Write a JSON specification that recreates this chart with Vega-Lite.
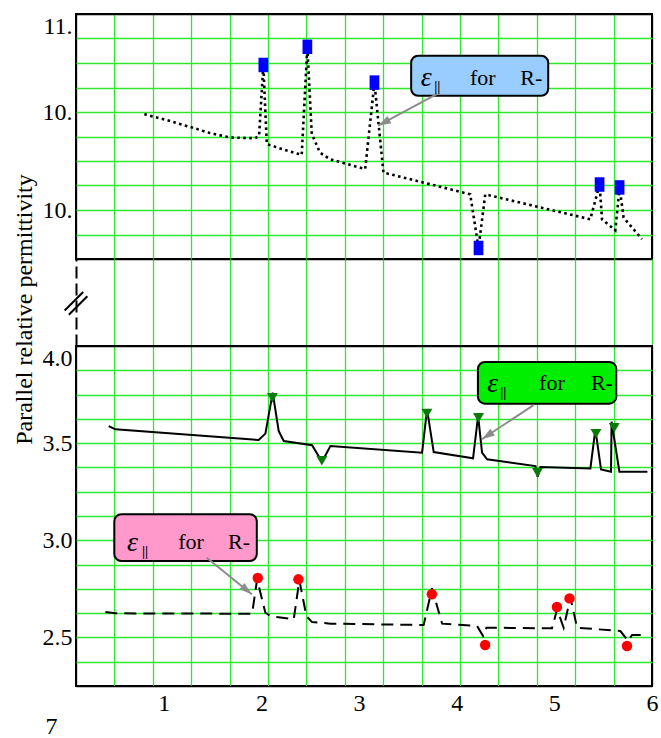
{
  "$schema": "https://vega.github.io/schema/vega-lite/v6.json",
  "background": "white",
  "padding": {"left": 12, "top": 13, "right": 0, "bottom": 10},
  "bounds": "flush",
  "spacing": 0,
  "config": {"font": "Liberation Serif", "text": {"font": "Liberation Serif"}, "axis": {"labelFont": "Liberation Serif", "titleFont": "Liberation Serif"}},
  "datasets": {
    "topLine": [
      {"x": 0.80, "y": 10.591}, {"x": 1.03, "y": 10.567}, {"x": 1.268, "y": 10.539}, {"x": 1.473, "y": 10.514},
      {"x": 1.678, "y": 10.496}, {"x": 1.934, "y": 10.493}, {"x": 1.975, "y": 10.503}, {"x": 2.019, "y": 10.792},
      {"x": 2.054, "y": 10.469}, {"x": 2.241, "y": 10.445}, {"x": 2.412, "y": 10.425}, {"x": 2.470, "y": 10.866},
      {"x": 2.515, "y": 10.510}, {"x": 2.600, "y": 10.434}, {"x": 2.703, "y": 10.407}, {"x": 3.062, "y": 10.367},
      {"x": 3.157, "y": 10.720}, {"x": 3.249, "y": 10.353}, {"x": 4.138, "y": 10.264}, {"x": 4.223, "y": 10.045},
      {"x": 4.292, "y": 10.264}, {"x": 5.368, "y": 10.162}, {"x": 5.463, "y": 10.304}, {"x": 5.488, "y": 10.162},
      {"x": 5.624, "y": 10.117}, {"x": 5.668, "y": 10.292}, {"x": 5.709, "y": 10.169}, {"x": 5.897, "y": 10.081}
    ],
    "topPts": [
      {"x": 2.019, "y": 10.792}, {"x": 2.470, "y": 10.866}, {"x": 3.157, "y": 10.720},
      {"x": 4.223, "y": 10.045}, {"x": 5.463, "y": 10.304}, {"x": 5.668, "y": 10.292}
    ],
    "midLine": [
      {"x": 0.435, "y": 3.588}, {"x": 0.504, "y": 3.571}, {"x": 1.971, "y": 3.516}, {"x": 2.040, "y": 3.549},
      {"x": 2.115, "y": 3.760}, {"x": 2.176, "y": 3.563}, {"x": 2.228, "y": 3.511}, {"x": 2.518, "y": 3.489},
      {"x": 2.620, "y": 3.404}, {"x": 2.706, "y": 3.485}, {"x": 3.645, "y": 3.451}, {"x": 3.696, "y": 3.674},
      {"x": 3.764, "y": 3.454}, {"x": 4.167, "y": 3.422}, {"x": 4.219, "y": 3.640}, {"x": 4.259, "y": 3.451},
      {"x": 4.311, "y": 3.417}, {"x": 4.806, "y": 3.382}, {"x": 4.829, "y": 3.327}, {"x": 4.857, "y": 3.377},
      {"x": 5.369, "y": 3.370}, {"x": 5.420, "y": 3.571}, {"x": 5.478, "y": 3.365}, {"x": 5.580, "y": 3.353},
      {"x": 5.586, "y": 3.610}, {"x": 5.666, "y": 3.353}, {"x": 5.953, "y": 3.353}
    ],
    "midPts": [
      {"x": 2.112, "y": 3.734}, {"x": 2.618, "y": 3.409}, {"x": 3.694, "y": 3.653}, {"x": 4.223, "y": 3.631},
      {"x": 4.827, "y": 3.348}, {"x": 5.426, "y": 3.549}, {"x": 5.613, "y": 3.579}
    ],
    "lowLine": [
      {"x": 0.401, "y": 2.631}, {"x": 0.504, "y": 2.624}, {"x": 1.904, "y": 2.622}, {"x": 1.955, "y": 2.799},
      {"x": 2.040, "y": 2.627}, {"x": 2.091, "y": 2.610}, {"x": 2.330, "y": 2.593}, {"x": 2.388, "y": 2.794},
      {"x": 2.460, "y": 2.610}, {"x": 2.518, "y": 2.579}, {"x": 2.706, "y": 2.571}, {"x": 3.661, "y": 2.564},
      {"x": 3.747, "y": 2.753}, {"x": 3.850, "y": 2.571}, {"x": 4.208, "y": 2.559}, {"x": 4.270, "y": 2.507},
      {"x": 4.304, "y": 2.550}, {"x": 4.976, "y": 2.547}, {"x": 5.028, "y": 2.645}, {"x": 5.095, "y": 2.550},
      {"x": 5.164, "y": 2.705}, {"x": 5.233, "y": 2.550}, {"x": 5.676, "y": 2.533}, {"x": 5.755, "y": 2.482},
      {"x": 5.796, "y": 2.513}, {"x": 5.909, "y": 2.513}
    ],
    "lowPts": [
      {"x": 1.962, "y": 2.806}, {"x": 2.378, "y": 2.799}, {"x": 3.745, "y": 2.722}, {"x": 4.291, "y": 2.461},
      {"x": 5.026, "y": 2.657}, {"x": 5.155, "y": 2.701}, {"x": 5.744, "y": 2.456}
    ],
    "boxes": [
      {"key": "top", "x": 3.533, "x2": 4.937, "y": 10.830, "y2": 10.666},
      {"key": "mid", "x": 4.217, "x2": 5.634, "y": 3.918, "y2": 3.703},
      {"key": "low", "x": 0.4925, "x2": 1.952, "y": 3.134, "y2": 2.893}
    ],
    "labels": [
      {"key": "top", "role": "eps", "x": 3.687, "y": 10.707, "text": "ε"},
      {"key": "top", "role": "sub", "x": 3.800, "y": 10.687, "text": "||"},
      {"key": "top", "role": "word", "x": 4.266, "y": 10.711, "text": "for"},
      {"key": "top", "role": "word", "x": 4.763, "y": 10.711, "text": "R-"},
      {"key": "mid", "role": "eps", "x": 4.368, "y": 3.763, "text": "ε"},
      {"key": "mid", "role": "sub", "x": 4.476, "y": 3.738, "text": "||"},
      {"key": "mid", "role": "word", "x": 4.975, "y": 3.774, "text": "for"},
      {"key": "mid", "role": "word", "x": 5.487, "y": 3.774, "text": "R-"},
      {"key": "low", "role": "eps", "x": 0.679, "y": 2.945, "text": "ε"},
      {"key": "low", "role": "sub", "x": 0.807, "y": 2.919, "text": "||"},
      {"key": "low", "role": "word", "x": 1.279, "y": 2.955, "text": "for"},
      {"key": "low", "role": "word", "x": 1.770, "y": 2.955, "text": "R-"}
    ],
    "arrows": [
      {"key": "top", "x": 3.800, "y": 10.674, "x2": 3.195, "y2": 10.544},
      {"key": "mid", "x": 4.787, "y": 3.696, "x2": 4.258, "y2": 3.520},
      {"key": "low", "x": 1.439, "y": 2.910, "x2": 1.901, "y2": 2.722}
    ]
  },
  "vconcat": [
    {
      "width": 576,
      "height": 245,
      "view": {"stroke": "black", "strokeWidth": 2},
      "encoding": {
        "x": {"field": "x", "type": "quantitative", "scale": {"domain": [0.1, 6], "nice": false, "zero": false},
          "axis": {"title": null, "values": [0.1, 0.4933, 0.8867, 1.28, 1.6733, 2.0667, 2.46, 2.8533, 3.2467, 3.64, 4.0333, 4.4267, 4.82, 5.2133, 5.6067, 6],
            "labels": false, "ticks": false, "tickSize": 0, "domain": false, "grid": true, "gridWidth": 1.3,
            "gridColor": {"condition": {"test": "datum.value < 0.11 || datum.value > 5.99", "value": "black"}, "value": "#2ee82e"}}},
        "y": {"field": "y", "type": "quantitative", "scale": {"domain": [10, 11], "nice": false, "zero": false},
          "axis": {"title": null, "values": [10, 10.1, 10.2, 10.3, 10.4, 10.5, 10.6, 10.7, 10.8, 10.9, 11],
            "ticks": false, "tickSize": 0, "domain": false, "grid": true, "gridWidth": 1.3,
            "gridColor": {"condition": {"test": "datum.value < 10.01 || datum.value > 10.99", "value": "black"}, "value": "#2ee82e"},
            "labelExpr": "datum.value > 10.95 ? '11.' : ((abs(datum.value - 10.6) < 0.01 || abs(datum.value - 10.2) < 0.01) ? '10.' : '')",
            "labelFlush": true, "labelOverlap": false, "labelFont": "Liberation Serif", "labelFontSize": 24, "labelColor": "black", "labelPadding": 4}}
      },
      "layer": [
        {"data": {"name": "topLine"}, "mark": {"type": "line", "color": "black", "strokeWidth": 2.6, "strokeDash": [2.6, 3.4]}},
        {"data": {"name": "topPts"}, "mark": {"type": "point", "shape": "M-0.67,-1L0.67,-1L0.67,1L-0.67,1Z", "filled": true, "color": "#0000ff", "size": 210, "opacity": 1}},
        {"data": {"name": "boxes"}, "transform": [{"filter": "datum.key == 'top'"}],
          "mark": {"type": "rect", "cornerRadius": 7, "stroke": "black", "strokeWidth": 2},
          "encoding": {"x2": {"field": "x2"}, "y2": {"field": "y2"},
            "fill": {"field": "key", "type": "nominal", "scale": {"domain": ["top", "mid", "low"], "range": ["#99ccff", "#00ee00", "#ff99cc"]}, "legend": null}}},
        {"data": {"name": "arrows"}, "transform": [{"filter": "datum.key == 'top'"}],
          "mark": {"type": "rule", "color": "#8c8c8c", "strokeWidth": 2},
          "encoding": {"x2": {"field": "x2"}, "y2": {"field": "y2"}}},
        {"data": {"name": "arrows"}, "transform": [{"filter": "datum.key == 'top'"}],
          "mark": {"type": "point", "shape": "M0,0L-0.5,1.6L0.5,1.6Z", "filled": true, "color": "#8c8c8c", "size": 256, "angle": 241.5, "opacity": 1},
          "encoding": {"x": {"field": "x2", "type": "quantitative"}, "y": {"field": "y2", "type": "quantitative"}}},
        {"data": {"name": "labels"}, "transform": [{"filter": "datum.key == 'top' && datum.role == 'eps'"}],
          "mark": {"type": "text", "font": "Liberation Serif", "fontSize": 28, "fontStyle": "italic", "align": "center", "baseline": "alphabetic", "color": "black"},
          "encoding": {"text": {"field": "text"}}},
        {"data": {"name": "labels"}, "transform": [{"filter": "datum.key == 'top' && datum.role == 'sub'"}],
          "mark": {"type": "text", "font": "Liberation Serif", "fontSize": 14, "fontWeight": "bold", "align": "center", "baseline": "alphabetic", "color": "black"},
          "encoding": {"text": {"field": "text"}}},
        {"data": {"name": "labels"}, "transform": [{"filter": "datum.key == 'top' && datum.role == 'word'"}],
          "mark": {"type": "text", "font": "Liberation Serif", "fontSize": 22, "align": "center", "baseline": "alphabetic", "color": "black"},
          "encoding": {"text": {"field": "text"}}}
      ]
    },
    {
      "width": 576,
      "height": 87,
      "view": {"stroke": null},
      "data": {"values": [{}]},
      "mark": {"type": "point", "shape": "M-0.81,0.51L0.51,-0.81M-0.51,0.81L0.81,-0.51", "filled": false, "color": "black", "strokeWidth": 2, "size": 784, "opacity": 1},
      "encoding": {
        "x": {"datum": 0.1, "type": "quantitative", "scale": {"domain": [0.1, 6], "nice": false, "zero": false},
          "axis": {"title": null, "values": [0.1, 0.4933, 0.8867, 1.28, 1.6733, 2.0667, 2.46, 2.8533, 3.2467, 3.64, 4.0333, 4.4267, 4.82, 5.2133, 5.6067, 6],
            "labels": false, "ticks": false, "tickSize": 0, "domain": false, "grid": true, "gridWidth": 1.3,
            "gridColor": {"condition": {"test": "datum.value < 0.11", "value": "transparent"}, "value": "#2ee82e"}}},
        "y": {"datum": 0.49, "type": "quantitative", "scale": {"domain": [0, 1], "nice": false, "zero": false},
          "axis": {"title": "Parallel relative permittivity", "labels": false, "ticks": false, "tickSize": 0, "grid": false,
            "domain": true, "domainDash": [12, 5], "domainColor": "black", "domainWidth": 2,
            "titleFont": "Liberation Serif", "titleFontSize": 24, "titleFontWeight": "normal", "titleColor": "black", "titlePadding": 40, "titleY": 50}}
      }
    },
    {
      "width": 576,
      "height": 340,
      "view": {"stroke": "black", "strokeWidth": 2},
      "encoding": {
        "x": {"field": "x", "type": "quantitative", "scale": {"domain": [0.1, 6], "nice": false, "zero": false},
          "axis": {"title": "7", "values": [0.1, 0.4933, 0.8867, 1, 1.28, 1.6733, 2, 2.0667, 2.46, 2.8533, 3, 3.2467, 3.64, 4, 4.0333, 4.4267, 4.82, 5, 5.2133, 5.6067, 6],
            "labelExpr": "datum.value % 1 == 0 ? format(datum.value, 'd') : ''",
            "labelFlush": false, "labelOverlap": false, "labelFont": "Liberation Serif", "labelFontSize": 24, "labelColor": "black", "labelPadding": 5,
            "ticks": false, "tickSize": 0, "domain": false, "grid": true, "gridWidth": 1.3,
            "gridColor": {"condition": {"test": "datum.value < 0.11 || datum.value > 5.99", "value": "black"}, "value": "#2ee82e"},
            "gridOpacity": {"condition": {"test": "datum.value % 1 == 0 && datum.value < 5.99", "value": 0}, "value": 1},
            "titleFont": "Liberation Serif", "titleFontSize": 24, "titleFontWeight": "normal", "titleColor": "black", "titleX": -25, "titleY": 40, "titleAlign": "center", "titleBaseline": "middle"}},
        "y": {"field": "y", "type": "quantitative", "scale": {"domain": [2.25, 4], "nice": false, "zero": false},
          "axis": {"title": null, "values": [2.25, 2.375, 2.5, 2.625, 2.75, 2.875, 3, 3.125, 3.25, 3.375, 3.5, 3.625, 3.75, 3.875, 4],
            "ticks": false, "tickSize": 0, "domain": false, "grid": true, "gridWidth": 1.3,
            "gridColor": {"condition": {"test": "datum.value < 2.26 || datum.value > 3.99", "value": "black"}, "value": "#2ee82e"},
            "labelExpr": "(datum.value == 2.5 || datum.value == 3 || datum.value == 3.5 || datum.value == 4) ? format(datum.value, '.1f') : ''",
            "labelFlush": true, "labelOverlap": false, "labelFont": "Liberation Serif", "labelFontSize": 24, "labelColor": "black", "labelPadding": 4}}
      },
      "layer": [
        {"data": {"name": "midLine"}, "mark": {"type": "line", "color": "black", "strokeWidth": 2}},
        {"data": {"name": "lowLine"}, "mark": {"type": "line", "color": "black", "strokeWidth": 2, "strokeDash": [12, 7]}},
        {"data": {"name": "midPts"}, "mark": {"type": "point", "shape": "triangle-down", "filled": true, "color": "#0a7a0a", "size": 120, "opacity": 1}},
        {"data": {"name": "lowPts"}, "mark": {"type": "point", "shape": "circle", "filled": true, "color": "#ff0000", "size": 110, "opacity": 1}},
        {"data": {"name": "boxes"}, "transform": [{"filter": "datum.key != 'top'"}],
          "mark": {"type": "rect", "cornerRadius": 7, "stroke": "black", "strokeWidth": 2},
          "encoding": {"x2": {"field": "x2"}, "y2": {"field": "y2"},
            "fill": {"field": "key", "type": "nominal", "scale": {"domain": ["top", "mid", "low"], "range": ["#99ccff", "#00ee00", "#ff99cc"]}, "legend": null}}},
        {"data": {"name": "arrows"}, "transform": [{"filter": "datum.key != 'top'"}],
          "mark": {"type": "rule", "color": "#8c8c8c", "strokeWidth": 2},
          "encoding": {"x2": {"field": "x2"}, "y2": {"field": "y2"}}},
        {"data": {"name": "arrows"}, "transform": [{"filter": "datum.key == 'mid'"}],
          "mark": {"type": "point", "shape": "M0,0L-0.5,1.6L0.5,1.6Z", "filled": true, "color": "#8c8c8c", "size": 256, "angle": 236.4, "opacity": 1},
          "encoding": {"x": {"field": "x2", "type": "quantitative"}, "y": {"field": "y2", "type": "quantitative"}}},
        {"data": {"name": "arrows"}, "transform": [{"filter": "datum.key == 'low'"}],
          "mark": {"type": "point", "shape": "M0,0L-0.5,1.6L0.5,1.6Z", "filled": true, "color": "#8c8c8c", "size": 256, "angle": 129.1, "opacity": 1},
          "encoding": {"x": {"field": "x2", "type": "quantitative"}, "y": {"field": "y2", "type": "quantitative"}}},
        {"data": {"name": "labels"}, "transform": [{"filter": "datum.key != 'top' && datum.role == 'eps'"}],
          "mark": {"type": "text", "font": "Liberation Serif", "fontSize": 28, "fontStyle": "italic", "align": "center", "baseline": "alphabetic", "color": "black"},
          "encoding": {"text": {"field": "text"}}},
        {"data": {"name": "labels"}, "transform": [{"filter": "datum.key != 'top' && datum.role == 'sub'"}],
          "mark": {"type": "text", "font": "Liberation Serif", "fontSize": 14, "fontWeight": "bold", "align": "center", "baseline": "alphabetic", "color": "black"},
          "encoding": {"text": {"field": "text"}}},
        {"data": {"name": "labels"}, "transform": [{"filter": "datum.key != 'top' && datum.role == 'word'"}],
          "mark": {"type": "text", "font": "Liberation Serif", "fontSize": 22, "align": "center", "baseline": "alphabetic", "color": "black"},
          "encoding": {"text": {"field": "text"}}}
      ]
    }
  ]
}
